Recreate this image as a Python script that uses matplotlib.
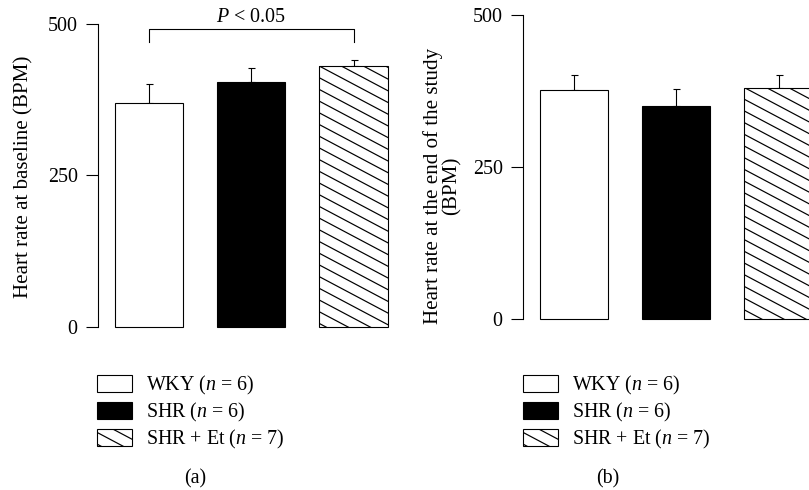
import matplotlib
matplotlib.use("Agg")
import numpy as np
import matplotlib.pyplot as plt
from matplotlib.patches import Patch, Rectangle
from matplotlib.lines import Line2D
from matplotlib.legend_handler import HandlerBase

plt.rcParams['font.family'] = ['Liberation Serif', 'DejaVu Serif']
plt.rcParams['mathtext.fontset'] = 'custom'
plt.rcParams['mathtext.rm'] = 'Liberation Serif'
plt.rcParams['mathtext.it'] = 'Liberation Serif:italic'

groups = ['WKY', 'SHR', 'SHR + Et']
legend_labels = ['WKY ($n$ = 6)', 'SHR ($n$ = 6)', 'SHR + Et ($n$ = 7)']
baseline_mean = [369, 403, 430]
baseline_sem = [32, 24, 10]
end_mean = [377, 350, 381]
end_sem = [25, 29, 20]

faces = ['white', 'black', 'white']
slanted = [False, False, True]
x = [0, 1, 2]

W, H = 809, 490
FS = 20
LW = 1.1
SLOPE = 0.53     # hatch lines are flatter than 45 degrees
GAP = 11.7       # vertical spacing of hatch lines, px
fig = plt.figure(figsize=(W / 72, H / 72), dpi=72)


def slant_lines(x0, y0, w, h, trans, clip):
    # diagonal lines running from upper left to lower right, clipped to clip
    out = []
    n_lo = -int(np.ceil(w * SLOPE / GAP)) - 1
    n_hi = int(np.ceil(h / GAP)) + 1
    for k in range(n_lo, n_hi):
        ya = y0 + h - k * GAP
        ln = Line2D([x0, x0 + w], [ya, ya - SLOPE * w], color='black',
                    lw=1.2, transform=trans, zorder=3)
        ln.set_clip_path(clip)
        out.append(ln)
    return out


class SlantHandler(HandlerBase):
    def create_artists(self, legend, orig_handle, xdescent, ydescent,
                       width, height, fontsize, trans):
        rect = Rectangle((-xdescent, -ydescent), width, height,
                         facecolor='white', edgecolor='black', lw=LW,
                         transform=trans)
        lines = slant_lines(-xdescent, -ydescent - 3, width, height, trans,
                            rect)
        return [rect] + lines


def panel(rect, means, sems, ylabel, xmax):
    ax = fig.add_axes(rect)
    ax.set_xlim(-0.5, xmax)
    ax.set_ylim(-4, 500)
    bars = ax.bar(x, means, width=0.667, color=faces, edgecolor='black',
                  linewidth=LW, zorder=2)
    ax.errorbar(x, means, yerr=[[0] * 3, sems], fmt='none', ecolor='black',
                elinewidth=LW, capsize=3.5, capthick=LW, zorder=1)
    for b, s in zip(bars, slanted):
        if s:
            e = b.get_window_extent()
            for ln in slant_lines(e.x0, e.y0, e.width, e.height, None, b):
                ln.set_transform(matplotlib.transforms.IdentityTransform())
                fig.add_artist(ln)
    ax.set_yticks([0, 250, 500])
    for s in ['top', 'right', 'bottom']:
        ax.spines[s].set_visible(False)
    ax.spines['left'].set_bounds(0, 500)
    ax.spines['left'].set_linewidth(LW)
    ax.set_xticks([])
    ax.tick_params(axis='y', length=12, width=LW, labelsize=FS, pad=8)
    ax.set_ylabel(ylabel, fontsize=21, linespacing=0.95)
    return ax


ax1 = panel([97.7 / W, (H - 329.1) / H, 307 / W, 305.4 / H],
            baseline_mean, baseline_sem, 'Heart rate at baseline (BPM)', 2.5)
ax1.yaxis.set_label_coords(-0.21, 0.5)
ax1.plot([0, 0, 2, 2], [470, 491, 491, 470], color='black', lw=LW,
         clip_on=False)
ax1.text(1, 503, '$P$ < 0.05', ha='center', va='baseline', fontsize=FS)

ax2 = panel([522.7 / W, (H - 321.7) / H, 1 - 522.7 / W, 306.4 / H],
            end_mean, end_sem,
            'Heart rate at the end of the study\n(BPM)', 2.297)
ax2.yaxis.set_label_coords(-0.213, 0.444)

handles = [Patch(facecolor=f, edgecolor='black', linewidth=LW)
           for f in faces]
for x0 in [97 / W, 523 / W]:
    fig.legend(handles, legend_labels, loc='upper left',
               bbox_to_anchor=(x0, (H - 374) / H), frameon=False,
               fontsize=FS, handlelength=1.75, handleheight=0.9,
               labelspacing=0.2, handletextpad=0.7, borderpad=0,
               borderaxespad=0, handler_map={handles[2]: SlantHandler()})

fig.text(195 / W, (H - 479) / H, '(a)', ha='center', va='center', fontsize=FS)
fig.text(608 / W, (H - 479) / H, '(b)', ha='center', va='center', fontsize=FS)

fig.savefig('out.png', dpi=72)
